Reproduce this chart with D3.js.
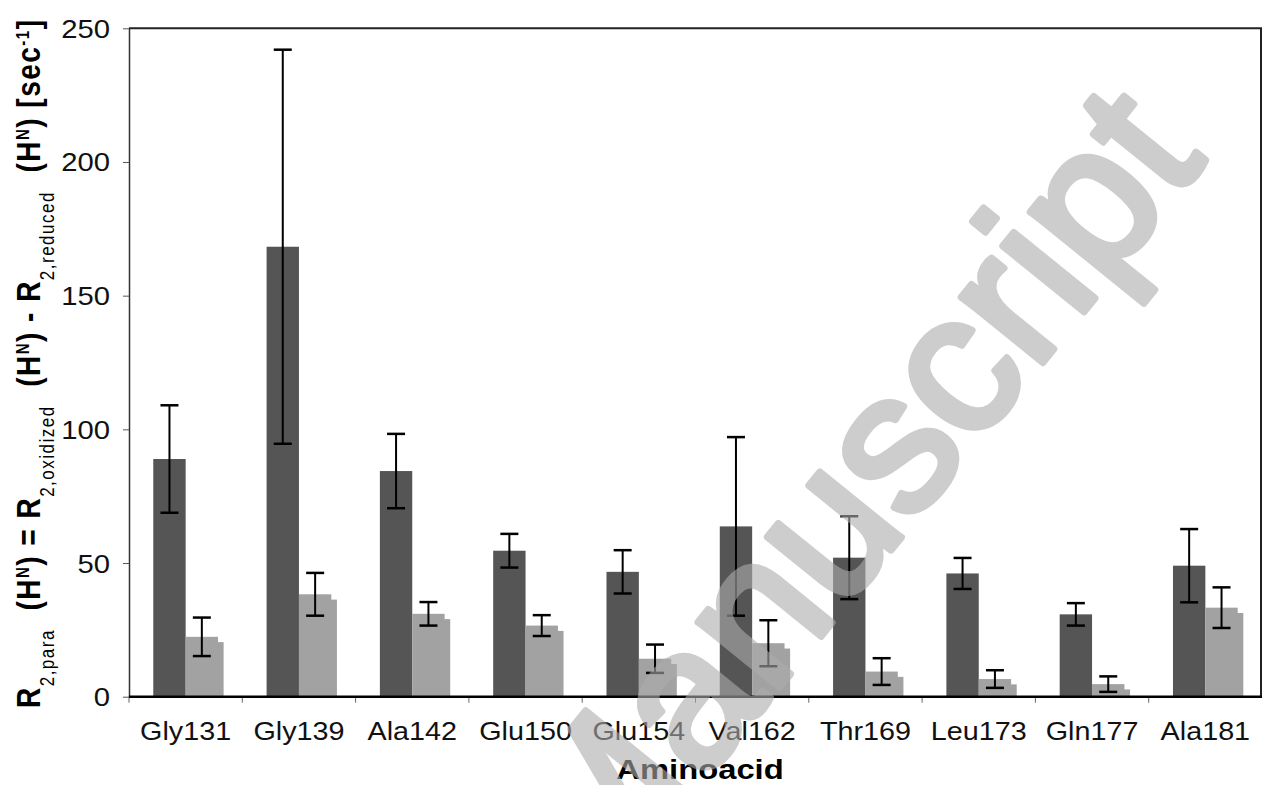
<!DOCTYPE html>
<html>
<head>
<meta charset="utf-8">
<script src="https://cdn.jsdelivr.net/npm/d3@7"></script>
<style>
  html, body { margin: 0; padding: 0; background: #fff; }
  svg { display: block; }
  text { font-family: "Liberation Sans", Arial, Helvetica, sans-serif; }
</style>
</head>
<body>
<svg id="chart" width="1263" height="785"></svg>
<script>
// ---- data ----
const categories = ["Gly131", "Gly139", "Ala142", "Glu150", "Glu154", "Val162", "Thr169", "Leu173", "Gln177", "Ala181"];
const seriesNames = ["dark", "light"];
const darkValues = [88.9, 168.3, 84.4, 54.6, 46.7, 63.7, 52.0, 46.1, 30.8, 49.0];
const darkErrors = [20.1, 73.7, 13.9, 6.3, 8.1, 33.4, 15.5, 5.8, 4.2, 13.7];
const lightValues = [22.4, 38.3, 31.0, 26.6, 14.2, 20.0, 9.4, 6.6, 4.7, 33.3];
const lightErrors = [7.2, 8.0, 4.4, 3.9, 5.3, 8.6, 5.0, 3.3, 2.9, 7.6];
const yTicks = [0, 50, 100, 150, 200, 250];
const xTitle = "Aminoacid";
const yTitleParts = [
  ["R", "b"], ["2,para", "sub"], ["  (H", "b"], ["N", "sup"], [") = R", "b"],
  ["2,oxidized", "sub"], ["  (H", "b"], ["N", "sup"], [") - R", "b"],
  ["2,reduced", "sub"], ["  (H", "b"], ["N", "sup"], [") [sec", "b"], ["-1", "sup"], ["]", "b"]
];
const watermark = "Manuscript";

// ---- layout ----
const L = 129, R = 1262, T = 28.3, B = 696.7;
const SX = 1.17; // horizontal stretch of glyphs in the reference
const colors = { dark: "#555555", light: "#a2a2a2" };

const svg = d3.select("#chart");

const x = d3.scaleBand().domain(categories).range([L, R]).paddingInner(0).paddingOuter(0);
const xs = d3.scaleBand().domain(seriesNames).range([0, x.bandwidth()]).paddingInner(0).paddingOuter(0.75);
const y = d3.scaleLinear().domain([0, 250]).range([B, T]);

const rows = categories.map((c, i) => ({
  cat: c,
  dark: { v: darkValues[i], e: darkErrors[i] },
  light: { v: lightValues[i], e: lightErrors[i] }
}));

// bars
const g = svg.append("g");
rows.forEach(r => {
  seriesNames.forEach(s => {
    const bx = x(r.cat) + xs(s);
    const bw = xs.bandwidth();
    if (s === "light") {
      g.append("rect")
        .attr("x", bx + 5.6).attr("y", y(r[s].v) + 5.3)
        .attr("width", bw).attr("height", B - y(r[s].v) - 5.3)
        .attr("fill", colors.light);
    }
    g.append("rect")
      .attr("x", bx).attr("y", y(r[s].v))
      .attr("width", bw).attr("height", B - y(r[s].v))
      .attr("fill", colors[s]);
  });
});

// error bars
rows.forEach(r => {
  seriesNames.forEach(s => {
    const cx = x(r.cat) + xs(s) + xs.bandwidth() / 2;
    const top = y(r[s].v + r[s].e), bot = y(Math.max(0, r[s].v - r[s].e));
    const eg = g.append("g").attr("stroke", "#000").attr("fill", "none");
    eg.append("line").attr("x1", cx).attr("x2", cx).attr("y1", top).attr("y2", bot).attr("stroke-width", 2);
    eg.append("line").attr("x1", cx - 9).attr("x2", cx + 9).attr("y1", top).attr("y2", top).attr("stroke-width", 2.5);
    eg.append("line").attr("x1", cx - 9).attr("x2", cx + 9).attr("y1", bot).attr("y2", bot).attr("stroke-width", 2.5);
  });
});

// frame (top & right)
svg.append("line").attr("x1", L).attr("x2", R).attr("y1", T).attr("y2", T).attr("stroke", "#222").attr("stroke-width", 2);
svg.append("line").attr("x1", R - 1).attr("x2", R - 1).attr("y1", T).attr("y2", B).attr("stroke", "#222").attr("stroke-width", 2);

// y axis
const yAxis = svg.append("g").attr("transform", `translate(${L},0)`)
  .call(d3.axisLeft(y).tickValues(yTicks).tickSize(6).tickSizeOuter(0));
yAxis.select(".domain").attr("stroke", "#333").attr("stroke-width", 1.5);
yAxis.selectAll(".tick line").attr("stroke", "#555");
yAxis.selectAll(".tick text")
  .attr("x", -19 / SX).attr("dy", "0.36em")
  .attr("transform", `scale(${SX},1)`)
  .attr("font-size", 25).attr("fill", "#111")
  .attr("font-family", "'Liberation Sans', Arial, sans-serif");

// x axis: boundary ticks and labels
const xg = svg.append("g");
const bounds = categories.map(c => x(c));
bounds.forEach(bx => {
  xg.append("line").attr("x1", bx).attr("x2", bx).attr("y1", B).attr("y2", B + 6).attr("stroke", "#666").attr("stroke-width", 1);
});
xg.append("line").attr("x1", L).attr("x2", R).attr("y1", B).attr("y2", B).attr("stroke", "#000").attr("stroke-width", 2.5);
categories.forEach(c => {
  xg.append("text")
    .attr("transform", `translate(${x(c) + x.bandwidth() / 2},740) scale(1.15,1)`)
    .attr("text-anchor", "middle").attr("font-size", 25).attr("fill", "#111")
    .text(c);
});

// x title
svg.append("text")
  .attr("transform", `translate(700,779) scale(${SX},1)`)
  .attr("text-anchor", "middle").attr("font-size", 28).attr("font-weight", "bold").attr("fill", "#000")
  .text(xTitle);

// y title
const yt = svg.append("text")
  .attr("transform", `translate(40,364) scale(${SX},1) rotate(-90)`)
  .attr("text-anchor", "middle").attr("fill", "#000").attr("font-size", 28)
  .attr("textLength", 688).attr("lengthAdjust", "spacing")
  .style("white-space", "pre");
let cur = 0;
yTitleParts.forEach(([t, k]) => {
  const target = k === "sub" ? 12 : k === "sup" ? -9 : 0;
  const ts = yt.append("tspan").attr("dy", target - cur).text(t);
  if (k === "b") ts.attr("font-weight", "bold");
  if (k === "sub") ts.attr("font-size", 17).attr("font-weight", "normal");
  if (k === "sup") ts.attr("font-size", 15).attr("font-weight", "bold");
  cur = target;
});

// watermark
svg.append("g").attr("opacity", 0.6)
  .append("text")
  .attr("transform", "translate(598,912) rotate(-51)")
  .attr("font-size", 198)
  .attr("fill", "#acacac").attr("stroke", "#acacac").attr("stroke-width", 7).attr("stroke-linejoin", "round")
  .text(watermark);
</script>
</body>
</html>
